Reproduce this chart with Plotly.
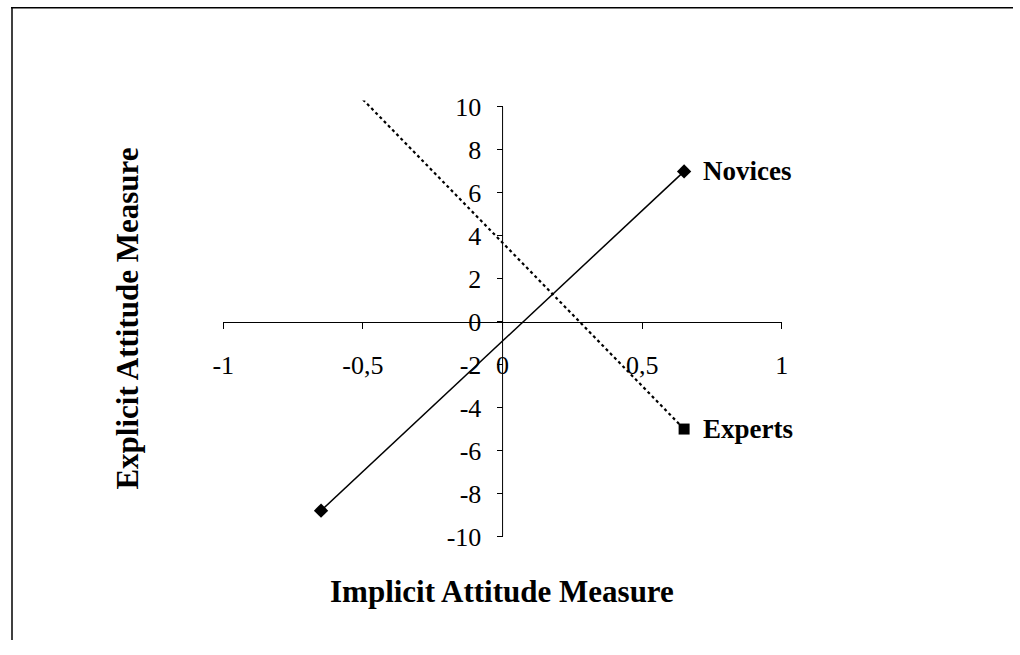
import plotly.graph_objects as go

# data
novices_x = [-0.65, 0.65]
novices_y = [-8.8, 7.0]
experts_x = [-0.65, 0.65]
experts_y = [12.35, -5.0]

x_ticks = [-1, -0.5, 0, 0.5, 1]
x_tick_text = ["-1", "-0,5", "0", "0,5", "1"]
y_ticks = [-10, -8, -6, -4, -2, 0, 2, 4, 6, 8, 10]
y_tick_text = [str(v) for v in y_ticks]

serif = "Liberation Serif, Times New Roman, serif"

W, H = 1020, 655
# plot area in figure pixels
x_dom = [216.1 / W, 784.7 / W]
y_dom = [(H - 547.8) / H, (H - 96.8) / H]
y_range = [-10, 10.3]
x_axis_pos = y_dom[0] + (0 - y_range[0]) / (y_range[1] - y_range[0]) * (y_dom[1] - y_dom[0])
y_axis_pos = (x_dom[0] + x_dom[1]) / 2

fig = go.Figure()
fig.add_trace(go.Scatter(x=novices_x, y=novices_y, mode='lines+markers', name='Novices',
                         line=dict(color='black', width=1.5),
                         marker=dict(symbol='diamond', size=11, color='black')))
fig.add_trace(go.Scatter(x=experts_x, y=experts_y, mode='lines+markers', name='Experts',
                         line=dict(color='black', width=2.2, dash='dot'),
                         marker=dict(symbol='square', size=11, color='black')))

fig.add_annotation(x=novices_x[-1], y=novices_y[-1], text='<b>Novices</b>', showarrow=False,
                   xanchor='left', xshift=17, font=dict(family=serif, size=27, color='black'))
fig.add_annotation(x=experts_x[-1], y=experts_y[-1], text='<b>Experts</b>', showarrow=False,
                   xanchor='left', xshift=17, font=dict(family=serif, size=27, color='black'))

# axis titles
fig.add_annotation(x=499.6 / W, y=1 - 605 / H, xref='paper', yref='paper',
                   xanchor='center', yanchor='middle',
                   text='<b>Implicit Attitude Measure</b>', showarrow=False,
                   font=dict(family=serif, size=31, color='black'))
fig.add_annotation(x=118.7 / W, y=1 - 322.8 / H, xref='paper', yref='paper',
                   xanchor='center', yanchor='middle',
                   text='<b>Explicit Attitude Measure</b>', showarrow=False, textangle=-90,
                   font=dict(family=serif, size=31, color='black'))

# y axis line from -10 to 10 at x=0
fig.add_shape(type='line', x0=0, x1=0, y0=-10, y1=10, xref='x', yref='y',
              line=dict(color='black', width=1))
# frame (only left and top edges are visible in the reference)
fig.add_shape(type='line', x0=0.001, x1=0.001, y0=0, y1=1, xref='paper', yref='paper',
              line=dict(color='black', width=1.5))
fig.add_shape(type='line', x0=0, x1=1, y0=0.999, y1=0.999, xref='paper', yref='paper',
              line=dict(color='black', width=1.5))

fig.update_xaxes(range=[-1, 1], domain=x_dom, anchor='free', position=x_axis_pos,
                 tickvals=x_ticks, ticktext=x_tick_text, ticks='outside', ticklen=6,
                 tickcolor='black', showline=True, linecolor='black', linewidth=1,
                 showgrid=False, zeroline=False, ticklabelstandoff=14,
                 tickfont=dict(family=serif, size=26, color='black'))
fig.update_yaxes(range=y_range, domain=y_dom, anchor='free', position=y_axis_pos,
                 tickvals=y_ticks, ticktext=y_tick_text, ticks='outside', ticklen=6,
                 tickcolor='black', showline=False, showgrid=False, zeroline=False,
                 ticklabelstandoff=10,
                 tickfont=dict(family=serif, size=26, color='black'))

fig.update_layout(width=W, height=H, margin=dict(l=0, r=0, t=0, b=0),
                  showlegend=False, plot_bgcolor='white', paper_bgcolor='white')
fig.write_html("out.html", config={'displayModeBar': False},
               post_script="document.body.style.margin='0';document.body.style.overflow='hidden';")
